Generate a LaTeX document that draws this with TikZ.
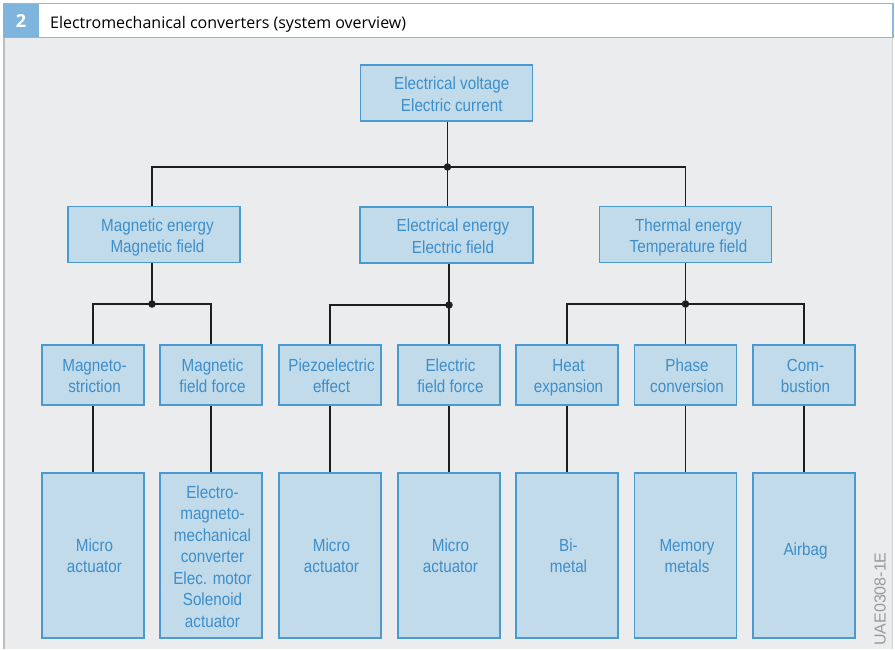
\documentclass[tikz,border=0pt]{standalone}
\usepackage{fontspec}
\newfontfamily\lib[FakeStretch=0.87]{Liberation Sans}
\newfontfamily\libn{Liberation Sans}
\newfontfamily\ttl{Open Sans}
\newsavebox\lblbox
\newcommand\lbl[3]{\sbox\lblbox{\begin{tabular}{@{}c@{}}#3\end{tabular}}\hspace*{#1}\raisebox{#2}[\ht\lblbox][\dp\lblbox]{\usebox\lblbox}}
\definecolor{boxfill}{HTML}{C2DBEA}
\definecolor{boxline}{HTML}{4A9AD0}
\definecolor{boxtext}{HTML}{3D8EC9}
\definecolor{bggray}{HTML}{EBECED}
\definecolor{hdrblue}{HTML}{86BADF}
\definecolor{numblue}{HTML}{7FB5DC}
\definecolor{edgegray}{HTML}{BDBDBD}
\definecolor{wire}{HTML}{1E1E1E}
\definecolor{codegray}{HTML}{9A9A9A}
\tikzset{
  cbox/.style={draw=boxline, fill=boxfill, text=boxtext, inner sep=0pt,
    line width=1.2pt, font=\lib\fontsize{17.5}{21.5}\selectfont},
  r2box/.style={cbox, minimum width=172pt, minimum height=56pt},
  r3box/.style={cbox, minimum width=102pt, minimum height=60pt},
  r4box/.style={cbox, minimum width=102pt, minimum height=165pt},
  wireline/.style={draw=wire, line width=1.3pt},
  jdot/.style={circle, fill=wire, inner sep=0pt, minimum size=7.5pt}
}
\begin{document}
\begin{tikzpicture}[x=1pt,y=-1pt]
\useasboundingbox (0,0) rectangle (895,649);
\fill[white] (0,0) rectangle (895,649);
% background panel
\fill[bggray] (3,38) rectangle (893,649);
\draw[edgegray, line width=2pt] (4,38) -- (4,649);
\draw[edgegray!70, line width=1.5pt] (892.5,38) -- (892.5,649);
% header
\fill[white] (3,3.5) rectangle (893,37.5);
\fill[numblue] (3,3.5) rectangle (39,37.5);
\draw[hdrblue, line width=1.8pt] (3,3.5) -- (893,3.5) -- (893,37.5) -- (3,37.5);
\node[text=white, font=\ttl\bfseries\fontsize{18}{20}\selectfont] (num) at (21,21) {2};
\node[anchor=base west, inner sep=0pt, font=\ttl\fontsize{16}{18}\selectfont] (title) at (50,28) {Electromechanical converters (system overview)};
% boxes
\node[r2box] (top) at (446.5,93) {\lbl{10.5pt}{-3pt}{Electrical voltage\\Electric current}};
\node[r2box] (mag) at (154,234.5) {\lbl{7pt}{-3pt}{Magnetic energy\\Magnetic field}};
\node[r2box, minimum width=173pt] (ele) at (446.5,235) {\lbl{13pt}{-3pt}{Electrical energy\\Electric field}};
\node[r2box] (the) at (685.5,234.5) {\lbl{6pt}{-3pt}{Thermal energy\\Temperature field}};
\foreach \n/\x/\t in {a/93/{Magneto-\\striction}, b/211/{Magnetic\\field force}, c/330/{Piezoelectric\\effect}, d/449/{Electric\\field force}, e/567/{Heat\\expansion}, f/685.5/{Phase\\conversion}, g/804/{Com-\\bustion}}
  {\node[r3box] (r3\n) at (\x,375) {\lbl{3pt}{-2.5pt}{\t}};}
\node[r4box] (r4a) at (93,555.5) {\lbl{3pt}{-2pt}{Micro\\actuator}};
\node[r4box] (r4b) at (211,555.5) {\lbl{3pt}{-3pt}{Electro-\\magneto-\\mechanical\\converter\\Elec. motor\\Solenoid\\actuator}};
\node[r4box] (r4c) at (330,555.5) {\lbl{3pt}{-2pt}{Micro\\actuator}};
\node[r4box] (r4d) at (449,555.5) {\lbl{3pt}{-2pt}{Micro\\actuator}};
\node[r4box] (r4e) at (567,555.5) {\lbl{3pt}{-2pt}{Bi-\\metal}};
\node[r4box] (r4f) at (685.5,555.5) {\lbl{3pt}{-2pt}{Memory\\metals}};
\node[r4box] (r4g) at (804,555.5) {\lbl{3pt}{4pt}{Airbag}};
% junctions
\coordinate (j0) at (447.5,167);
\coordinate (j1) at (152,304);
\coordinate (j2) at (449,305);
\coordinate (j3) at (685.5,304);
% wires
\draw[wireline] (top.south -| j0) -- (j0);
\draw[wireline] (mag.north -| j1) |- (j0) -| (the.north);
\draw[wireline] (j0) -- (ele.north -| j0);
\draw[wireline] (mag.south -| j1) -- (j1);
\draw[wireline] (r3a.north) |- (j1) -| (r3b.north);
\draw[wireline] (ele.south -| j2) -- (r3d.north);
\draw[wireline] (r3c.north) |- (j2);
\draw[wireline] (the.south) -- (r3f.north);
\draw[wireline] (r3e.north) |- (j3) -| (r3g.north);
\foreach \n in {a,b,c,d,e,f,g} {\draw[wireline] (r3\n.south) -- (r4\n.north);}
\foreach \j in {j0,j1,j2,j3} {\node[jdot] at (\j) {};}
% code
\node[rotate=90, text=codegray, font=\libn\fontsize{16}{18}\selectfont, inner sep=0pt] (code) at (880,599) {UAE0308-1E};
\end{tikzpicture}
\end{document}
